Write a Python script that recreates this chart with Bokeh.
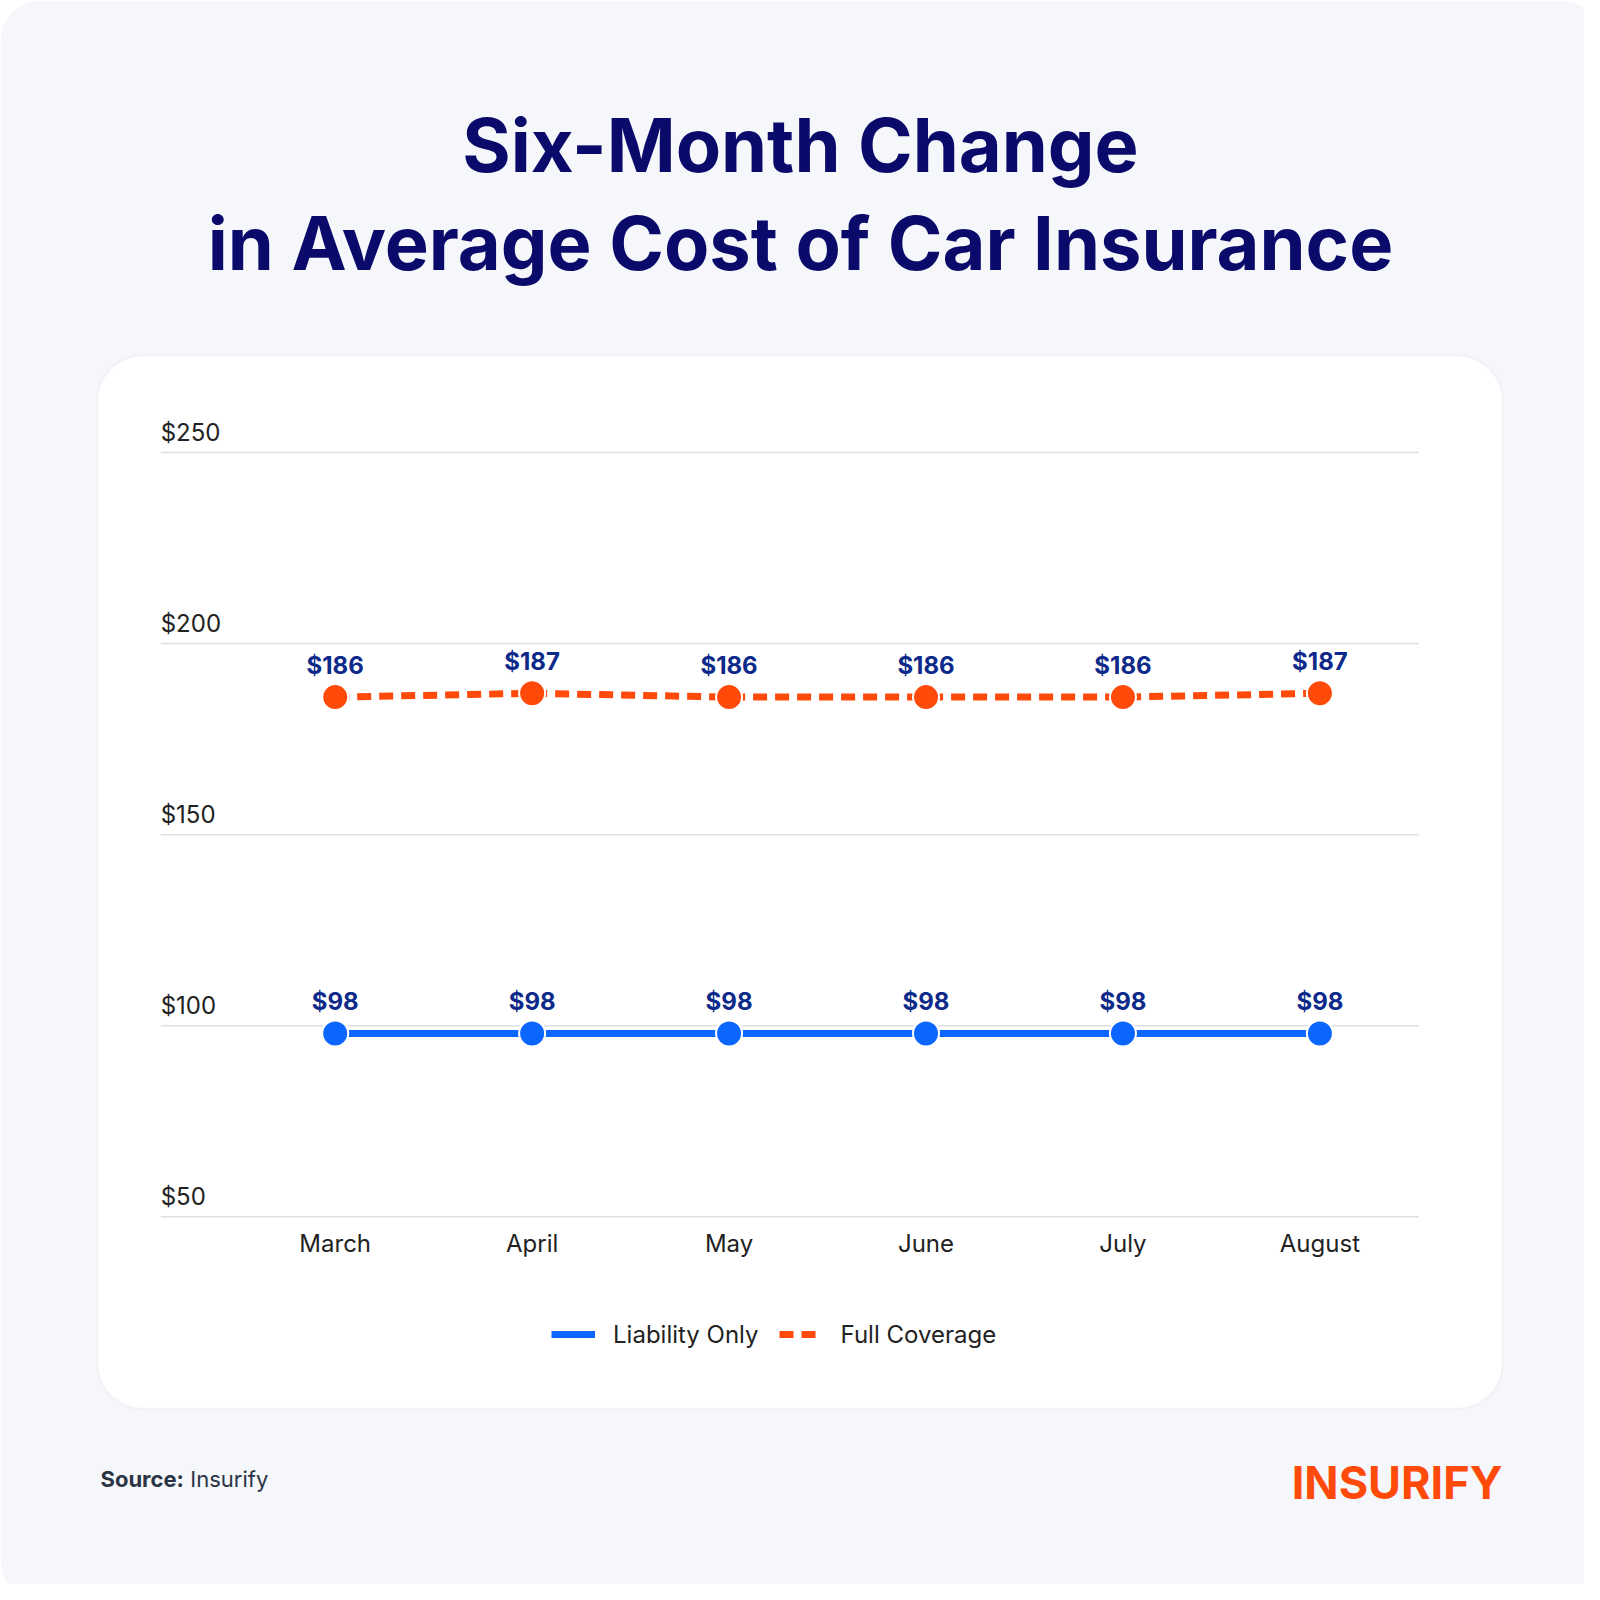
from bokeh.plotting import figure
from bokeh.models import Range1d, Label, BoxAnnotation, Legend, LegendItem
from bokeh.core.properties import value
from bokeh.embed import file_html
from bokeh.resources import INLINE

months = ["March", "April", "May", "June", "July", "August"]
liability = [98, 98, 98, 98, 98, 98]
full = [186, 187, 186, 186, 186, 187]
yticks = [50, 100, 150, 200, 250]
ytick_labels = ["$50", "$100", "$150", "$200", "$250"]

S = 1600 / 1568.0
def T(v):
    return v * S

W = H = 1584
FONT = "Inter"
NAVY = "#0a0a6b"
BLUE = "#0a66ff"
ORANGE = "#ff4a0a"
LBL = "#0d2a8a"

px_x0, px_step = T(328), 193 * S
y50, y250 = H - T(1192), H - T(443)
ppu = (y250 - y50) / 200.0
p = figure(width=W, height=H, output_backend="svg", toolbar_location=None,
           x_range=Range1d(-px_x0 / px_step, (W - px_x0) / px_step),
           y_range=Range1d(50 - y50 / ppu, 50 + (H - y50) / ppu),
           min_border=0, outline_line_color=None, background_fill_color="white",
           border_fill_color="white")
p.axis.visible = False
p.grid.visible = False

def sbox(l, r, t, b, **kw):
    p.add_layout(BoxAnnotation(left=T(l), right=T(r), top=H - T(t), bottom=H - T(b),
                               left_units="screen", right_units="screen",
                               top_units="screen", bottom_units="screen", **kw))

sbox(0, 1568, 0, 1568, fill_color="#f6f7fb", fill_alpha=1, line_color=None, border_radius=40, level="underlay")
sbox(95, 1472, 348, 1380, fill_color="white", fill_alpha=1, line_color="#dfe2e8",
     line_width=2, border_radius=45, level="underlay")

def slabel(x, y, text, size, color, style="normal", align="left", baseline="middle"):
    p.add_layout(Label(x=T(x), y=H - T(y), x_units="screen", y_units="screen", text=text,
                       text_font=FONT, text_font_size=f"{size * S:.0f}px", text_color=color,
                       text_font_style=style, text_align=align, text_baseline=baseline))

slabel(784, 142, "Six-Month Change", 73, NAVY, "bold", "center")
slabel(784, 238, "in Average Cost of Car Insurance", 73, NAVY, "bold", "center")
slabel(98, 1449, "Source:", 22, "#2b3445", "bold")
slabel(186, 1449, "Insurify", 22, "#2b3445")
slabel(1472, 1452, "INSURIFY", 44, ORANGE, "bold", "right")

fs = f"{24 * S:.0f}px"
x0, x1 = (157 - 328) / 193, (1390 - 328) / 193
p.segment(x0=[x0] * len(yticks), x1=[x1] * len(yticks), y0=yticks, y1=yticks,
          line_color="#dde0e6", line_width=1.5)
p.text(x=[x0] * len(yticks), y=yticks, text=ytick_labels, text_font=value(FONT),
       text_font_size=fs, text_color="#222222", text_baseline="bottom", y_offset=-6)
xs = list(range(len(months)))
p.text(x=xs, y=[50] * len(xs), text=months, text_font=value(FONT), text_font_size=fs,
       text_color="#222222", text_align="center", text_baseline="middle", y_offset=27)

lr = p.line(xs, liability, line_color=BLUE, line_width=7)
fr = p.line(xs, full, line_color=ORANGE, line_width=7, line_dash="14 8")
for ys, c in ((liability, BLUE), (full, ORANGE)):
    p.scatter(xs, ys, size=26, fill_color=c, line_color="white", line_width=2)
    p.text(xs, ys, text=[f"${v}" for v in ys], text_font=value(FONT), text_font_size=fs,
           text_font_style="bold", text_color=LBL, text_align="center",
           text_baseline="bottom", y_offset=-17)

leg = Legend(items=[LegendItem(label="Liability Only", renderers=[lr]),
                    LegendItem(label="Full Coverage", renderers=[fr])],
             orientation="horizontal", location=(T(540), H - T(1322)), glyph_width=44,
             label_standoff=18, label_text_font=FONT, label_text_font_size=fs,
             label_text_color="#222222", background_fill_alpha=0, border_line_color=None,
             spacing=20)
p.add_layout(leg, "center")

open("out.html", "w").write(file_html(p, INLINE))
